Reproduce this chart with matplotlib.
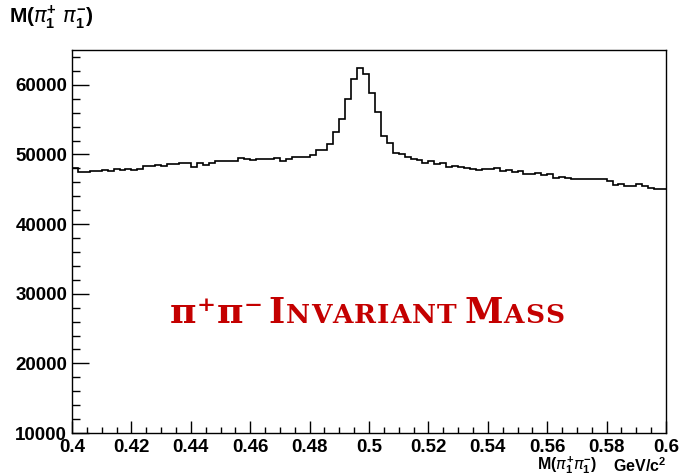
import numpy as np
import matplotlib
matplotlib.use("Agg")
import matplotlib.pyplot as plt
from matplotlib.ticker import MultipleLocator, FormatStrFormatter
from matplotlib.transforms import IdentityTransform

plt.rcParams['font.family'] = ['Liberation Sans', 'DejaVu Sans']
plt.rcParams['font.weight'] = 'bold'
plt.rcParams['mathtext.fontset'] = 'custom'
plt.rcParams['mathtext.rm'] = 'Liberation Sans:bold'
plt.rcParams['mathtext.it'] = 'DejaVu Sans:italic:normal'
plt.rcParams['mathtext.bf'] = 'Liberation Sans:bold'

# --- histogram: M(pi+ pi-), 100 bins from 0.4 to 0.6 GeV/c^2 ---
x_lo, x_hi, n_bins = 0.4, 0.6, 100
counts = [
    48090, 47460, 47460, 47560, 47560, 47750, 47600, 47850, 47750, 47850,
    47800, 47950, 48320, 48320, 48420, 48320, 48610, 48610, 48710, 48710,
    48230, 48810, 48460, 48810, 49000, 49100, 49000, 49000, 49530, 49280,
    49140, 49390, 49390, 49280, 49530, 49000, 49390, 49670, 49570, 49570,
    49930, 50580, 50580, 51540, 53210, 55140, 58020, 60800, 62480, 61520,
    58880, 56090, 52640, 51690, 50250, 50000, 49670, 49390, 49140, 48710,
    49100, 48570, 48810, 48230, 48320, 48130, 48090, 47950, 47770, 47850,
    47850, 47990, 47600, 47750, 47460, 47560, 47130, 47130, 47270, 47080,
    47170, 46550, 46800, 46650, 46410, 46410, 46410, 46410, 46510, 46510,
    46120, 45640, 45730, 45440, 45440, 45690, 45540, 45210, 44970, 44970,
]
edges = np.linspace(x_lo, x_hi, n_bins + 1)

title = r"$\mathrm{M(}\pi_{1}^{+}\ \pi_{1}^{-}\mathrm{)}$"
xlabel_var = r"$\mathrm{M(}\pi_{1}^{+}\pi_{1}^{-}\mathrm{)}$"
xlabel_unit = r"GeV/c$^{2}$"

fig = plt.figure(figsize=(6.79, 4.76), dpi=100)
ax = fig.add_axes([72 / 679, 1 - 433 / 476, (666 - 72) / 679, (433 - 50) / 476])

ax.stairs(counts, edges, color="black", lw=1.2, baseline=None)

ax.set_xlim(x_lo, x_hi)
ax.set_ylim(10000, 65000)

ax.xaxis.set_major_locator(MultipleLocator(0.02))
ax.xaxis.set_minor_locator(MultipleLocator(0.005))
ax.xaxis.set_major_formatter(FormatStrFormatter("%g"))
ax.yaxis.set_major_locator(MultipleLocator(10000))
ax.yaxis.set_minor_locator(MultipleLocator(2000))

ax.tick_params(axis="both", which="both", direction="in", top=False, right=False,
               labelsize=13.5, width=1)
ax.tick_params(axis="x", which="major", length=8.5, pad=4.5)
ax.tick_params(axis="x", which="minor", length=4.5)
ax.tick_params(axis="y", which="major", length=12, pad=3.5)
ax.tick_params(axis="y", which="minor", length=6)
for lab in ax.get_xticklabels() + ax.get_yticklabels():
    lab.set_fontweight("bold")
for sp in ax.spines.values():
    sp.set_linewidth(1.0)

fig.text(9 / 679, 1 - 23 / 476, title, fontsize=15, va="baseline")
fig.text(597 / 679, 1 - 470 / 476, xlabel_var, fontsize=11.5,
         ha="right", va="baseline")
fig.text(666 / 679, 1 - 472 / 476, xlabel_unit, fontsize=11.5, fontweight="bold",
         ha="right", va="baseline")

# --- red caption, small caps built piece by piece ---
red = "#c40000"
renderer = fig.canvas.get_renderer()
pieces = [
    ("\u03c0\u207a\u03c0\u207b", 26, 0.5),
    (" ", 12, 0.0),
    ("I", 25, 1.0),
    ("NVARIANT", 19, 1.0),
    (" ", 14, 0.0),
    ("M", 25, 1.0),
    ("ASS", 19, 1.0),
]
x_px, y_px = 170.0, 476 - 323.0
for text, size, gap in pieces:
    for ch in text:
        t = fig.text(x_px, y_px, ch, transform=IdentityTransform(), color=red,
                     fontsize=size, family="DejaVu Serif", fontweight="bold",
                     va="baseline", ha="left")
        x_px += t.get_window_extent(renderer).width + gap

fig.savefig("out.png", dpi=100)
